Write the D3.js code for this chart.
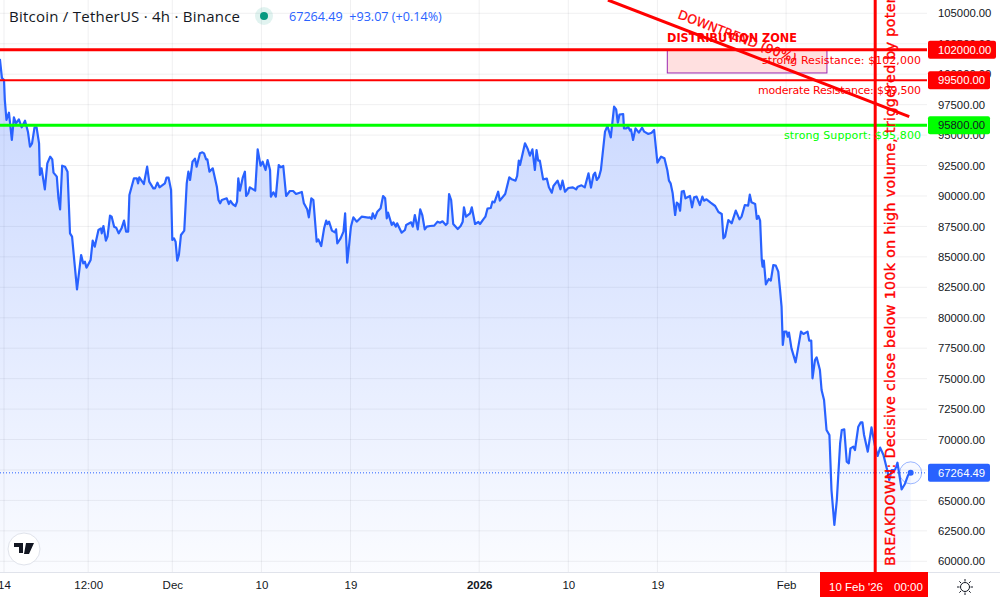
<!DOCTYPE html>
<html>
<head>
<meta charset="utf-8">
<title>BTCUSDT 4h</title>
<script src="https://cdn.jsdelivr.net/npm/d3@7/dist/d3.min.js"></script>
<style>
    html, body { margin: 0; padding: 0; background: #fff; }
    svg { display: block; }
    text { font-family: "Liberation Sans", sans-serif; }
</style>
</head>
<body>
<svg id="chart" width="1000" height="600"></svg>
<script>
(function() {
    "use strict"

    // hours after 14 Nov 2025 00:00 UTC
    var hours = [-10,-5,0,2,6,12,19,24,29,36,43,51,58,63,68,74,79,85,87,91,99,105,112,117,120,128,132,136,141,148,154,160,165,171,177,187,192,196,200,210,215,220,229,235,237,241,247,251,257,261,267,272,278,285,291,296,301,304,315,322,325,328,339,347,352,362,366,372,377,390,394,399,405,408,412,416,420,424,429,437,443,447,451,457,463,467,475,481,485,490,493,498,506,516,520,524,528,540,545,549,554,561,565,568,572,579,584,587,592,596,609,615,622,627,634,639,645,647,653,659,666,671,677,684,693,701,708,722,727,735,739,745,750,758,762,769,776,781,784,788,795,802,805,808,816,823,827,832,837,841,847,855,867,883,887,891,894,899,905,913,919,924,928,931,940,944,950,953,964,972,975,987,991,996,1003,1009,1014,1020,1025,1033,1043,1051,1057,1063,1071,1075,1079,1084,1089,1100,1107,1112,1115,1120,1130,1134,1142,1150,1154,1162,1167,1172,1180,1184,1189,1198,1202,1215,1225,1231,1240,1244,1248,1251,1263,1270,1275,1281,1287,1291,1295,1299,1307,1316,1321,1328,1332,1342,1349,1354,1360,1368,1379,1387,1391,1400,1408,1417,1423,1429,1433,1437,1442,1447,1457,1463,1471,1479,1484,1488,1492,1501,1503,1509,1513,1518,1520,1525,1531,1539,1547,1552,1562,1570,1576,1584,1593,1601,1608,1612,1616,1621,1627,1631,1635,1639,1643,1648,1652,1663,1668,1673,1679,1687,1693,1697,1703,1713,1724,1732,1740,1744,1748,1756,1764,1774,1783,1788,1796,1804,1808,1812,1821,1825,1829,1833,1837,1839,1842,1847,1854,1859,1865,1871,1877,1881,1885,1888,1892,1897,1900,1903,1909,1919,1932,1938,1948,1952,1957,1960,1966,1970,1978,1982,1988,1994,2001,2006,2013,2019,2027,2031,2037,2043,2048,2052,2059,2063,2071,2077,2081,2085,2094,2103,2111,2118,2124,2132,2141,2146,2152,2160,2166,2176,2184,2192,2198];
    var closes = [101250,99690,99520,97880,96238,96840,94596,96457,95964,96293,95636,96183,95280,94048,94322,95636,95636,94322,91722,92269,90545,92680,93227,93008,91913,91585,89806,88903,92488,92406,91996,86932,86658,84469,82334,85153,84469,84606,84113,84742,86330,85837,87206,87343,86932,87534,86330,86658,88383,88301,87479,87397,86932,87343,87972,87069,87069,90080,91448,91448,91038,91530,90983,92406,91174,90627,90627,91092,90709,91038,91503,91503,90490,86385,86521,86248,84688,85153,86795,87151,91038,91996,91311,92817,93063,92406,93501,93583,93501,93008,93008,91996,92269,90764,89669,89395,89669,89806,89341,89587,89341,89176,89532,91448,90435,91530,91996,89997,90216,90709,90435,93829,92488,92817,92132,92953,92132,89943,90299,89943,92543,92351,92461,89997,90408,90408,90162,90326,89395,88903,88246,89806,89669,86248,86439,85892,87343,87972,87698,87890,87151,87014,87260,86111,86521,87069,88574,84523,86111,87479,88246,87890,88301,88218,88246,88109,88574,88164,88711,88985,89997,89806,88164,88629,87616,87835,87479,87753,86987,87206,87616,87835,87479,88437,87260,88903,88437,87260,87479,87534,87561,87890,87808,87918,87616,87753,90162,89669,87698,87288,87534,87890,89067,88301,88574,89067,87698,87863,87698,88082,88301,88958,89012,89532,89477,90353,89614,90162,91530,91366,91256,91640,92899,92543,94322,93829,93309,93829,92132,93774,92899,92899,91366,91421,90709,90271,90819,91256,90545,91256,90353,90654,90709,90545,90764,90873,90709,91858,90682,91721,91913,91311,91530,92132,95280,95745,94814,97333,97114,96019,96676,96730,95553,95553,95690,95362,95471,94595,95553,95198,95608,95280,95088,95198,95417,92734,93227,93090,92132,91256,91037,90216,88437,89450,89340,88793,90353,90408,89806,89997,89067,89888,89943,89258,89943,89614,89724,89450,89176,88684,88519,86521,86658,88027,87753,88793,88082,88300,89258,89204,90107,89477,89340,88109,88355,87972,84742,84195,84688,82744,83182,83045,84332,84277,83784,82415,80910,77763,78858,78858,78447,78776,77489,76340,78858,78666,78858,78119,78119,75026,76531,76750,75710,74066,73245,70782,70371,65855,62981,65034,69687,70782,70836,68181,68044,69276,69413,69139,71055,71411,71411,70371,69002,70996,69550,68647,69331,68729,67497,66676,67497,67497,68099,65910,66348,67087,67264.49];

    var priceTicks = [105000,102500,100000,97500,95000,92500,90000,87500,85000,82500,80000,77500,75000,72500,70000,67500,65000,62500,60000];
    var timeTicks = ["2025-11-14T00:00Z","2025-11-22T12:00Z","2025-12-01T00:00Z","2025-12-10T00:00Z","2025-12-19T00:00Z","2026-01-01T00:00Z","2026-01-10T00:00Z","2026-01-19T00:00Z","2026-02-01T00:00Z"];
    var timeLabels = ["14","12:00","Dec","10","19","2026","10","19","Feb"];

    var levels = [102000, 99500, 95800];
    var levelNames = ["strong Resistance: $102,000", "moderate Resistance: $99,500", "strong Support: $95,800"];
    var levelColors = ["#ff0000", "#ff0000", "#00ff00"];
    var levelWidths = [3, 2, 3];
    var levelBoxWidths = [68, 62, 62];
    var levelTextLengths = [159, 163, 137];

    var lastPrice = 67264.49;
    var breakdownDate = "2026-02-10T00:00Z";
    var zoneDates = ["2026-01-20T00:00Z", "2026-02-05T03:00Z"];
    var zonePrices = [102000, 100100];
    var trendDates = ["2026-01-14T00:00Z", "2026-02-13T10:30Z"];
    var trendPrices = [106090, 96510];

    var plotW = 927, plotH = 572;
    var t0 = Date.UTC(2025, 10, 14);
    var svg = d3.select("#chart");

    var x = d3.scaleUtc()
        .domain([new Date(t0), new Date("2026-02-10T00:00Z")])
        .range([4, 875.2]);
    var y = d3.scaleLinear()
        .domain([105000, 60000])
        .range([13.3, 561.3]);

    var series = hours.map(function(h, i) {
        return { date: new Date(t0 + h * 3600000), close: closes[i] };
    });

    // 面积渐变
    var grad = svg.append("defs").append("linearGradient")
        .attr("id", "areaFill")
        .attr("gradientUnits", "userSpaceOnUse")
        .attr("x1", 0).attr("x2", 0)
        .attr("y1", 60).attr("y2", plotH);
    grad.append("stop").attr("offset", 0).attr("stop-color", "#2962ff").attr("stop-opacity", 0.26);
    grad.append("stop").attr("offset", 1).attr("stop-color", "#2962ff").attr("stop-opacity", 0.02);
    svg.select("defs").append("clipPath").attr("id", "plotClip")
        .append("rect").attr("width", plotW).attr("height", plotH);

    var plot = svg.append("g").attr("clip-path", "url(#plotClip)");

    // grid
    plot.selectAll("line.gy").data(priceTicks).enter().append("line")
        .attr("x1", 0).attr("x2", plotW)
        .attr("y1", function(d) { return y(d); })
        .attr("y2", function(d) { return y(d); })
        .attr("stroke", "#2a2e39").attr("stroke-opacity", 0.07);
    plot.selectAll("line.gx").data(timeTicks).enter().append("line")
        .attr("y1", 0).attr("y2", plotH)
        .attr("x1", function(d) { return x(new Date(d)); })
        .attr("x2", function(d) { return x(new Date(d)); })
        .attr("stroke", "#2a2e39").attr("stroke-opacity", 0.07);

    // area + line
    plot.append("path").datum(series)
        .attr("fill", "url(#areaFill)")
        .attr("d", d3.area()
            .x(function(d) { return x(d.date); })
            .y0(plotH)
            .y1(function(d) { return y(d.close); }));
    plot.append("path").datum(series)
        .attr("fill", "none")
        .attr("stroke", "#2962ff")
        .attr("stroke-width", 2.2)
        .attr("stroke-linejoin", "round")
        .attr("d", d3.line()
            .x(function(d) { return x(d.date); })
            .y(function(d) { return y(d.close); }));

    // last price dotted line
    plot.append("line")
        .attr("x1", 0).attr("x2", plotW)
        .attr("y1", y(lastPrice)).attr("y2", y(lastPrice))
        .attr("stroke", "#2962ff").attr("stroke-width", 1).attr("stroke-dasharray", "1 2");

    var last = series[series.length - 1];
    plot.append("circle")
        .attr("cx", x(last.date)).attr("cy", y(last.close)).attr("r", 11)
        .attr("fill", "#2962ff").attr("fill-opacity", 0.04)
        .attr("stroke", "#2962ff").attr("stroke-opacity", 0.45);
    plot.append("circle")
        .attr("cx", x(last.date)).attr("cy", y(last.close)).attr("r", 3)
        .attr("fill", "#2962ff");

    // distribution zone
    plot.append("rect")
        .attr("x", x(new Date(zoneDates[0])))
        .attr("y", y(zonePrices[0]))
        .attr("width", x(new Date(zoneDates[1])) - x(new Date(zoneDates[0])))
        .attr("height", y(zonePrices[1]) - y(zonePrices[0]))
        .attr("fill", "#ff0000").attr("fill-opacity", 0.12)
        .attr("stroke", "#9c27b0").attr("stroke-width", 1);

    // level lines
    plot.selectAll("line.level").data(levels).enter().append("line")
        .attr("x1", 0).attr("x2", plotW)
        .attr("y1", function(d) { return y(d); })
        .attr("y2", function(d) { return y(d); })
        .attr("stroke", function(d, i) { return levelColors[i]; })
        .attr("stroke-width", function(d, i) { return levelWidths[i]; });

    // downtrend line
    plot.append("line")
        .attr("x1", x(new Date(trendDates[0]))).attr("y1", y(trendPrices[0]))
        .attr("x2", x(new Date(trendDates[1]))).attr("y2", y(trendPrices[1]))
        .attr("stroke", "#ff0000").attr("stroke-width", 3);

    // breakdown line
    plot.append("line")
        .attr("x1", x(new Date(breakdownDate))).attr("x2", x(new Date(breakdownDate)))
        .attr("y1", 0).attr("y2", plotH)
        .attr("stroke", "#ff0000").attr("stroke-width", 3);

    // annotations
    var noteFont = '"DejaVu Sans", sans-serif';
    plot.selectAll("text.level").data(levelNames).enter().append("text")
        .attr("x", 921)
        .attr("y", function(d, i) { return y(levels[i]) + 14; })
        .attr("text-anchor", "end")
        .attr("textLength", function(d, i) { return levelTextLengths[i]; })
        .attr("fill", function(d, i) { return levelColors[i]; })
        .style("font-family", noteFont)
        .style("font-size", "11px")
        .text(function(d) { return d; });
    plot.append("text")
        .attr("x", 667).attr("y", 42)
        .attr("textLength", 130)
        .attr("lengthAdjust", "spacingAndGlyphs")
        .attr("fill", "#ff0000")
        .style("font-family", noteFont)
        .style("font-size", "12px").style("font-weight", "bold")
        .text("DISTRIBUTION ZONE");
    plot.append("text")
        .attr("transform", "translate(677,18) rotate(21)")
        .attr("fill", "#ff0000").attr("stroke", "#ff0000").attr("stroke-width", 0.25)
        .style("font-family", noteFont)
        .style("font-size", "12.5px")
        .text("DOWNTREND (90%)");
    plot.append("text")
        .attr("transform", "translate(894.5,566) rotate(-90)")
        .attr("fill", "#ff0000").attr("stroke", "#ff0000").attr("stroke-width", 0.35)
        .style("font-family", noteFont)
        .style("font-size", "14.2px").style("letter-spacing", "0.35px")
        .text("BREAKDOWN: Decisive close below 100k on high volume, triggered by potential");

    // price axis
    svg.append("rect").attr("x", plotW).attr("y", 0).attr("width", 1000 - plotW).attr("height", 600).attr("fill", "#fff");
    var yAxis = svg.append("g")
        .attr("transform", "translate(" + 938 + ",0)")
        .call(d3.axisRight(y).tickValues(priceTicks).tickSize(0).tickPadding(0)
            .tickFormat(function(d) { return d3.format(".2f")(d); }));
    yAxis.select(".domain").remove();
    yAxis.selectAll("text").attr("fill", "#131722")
        .style("font-size", "11.3px").style("font-family", '"Liberation Sans", sans-serif');

    // level tags
    var tags = svg.selectAll("g.tag").data(levels).enter().append("g")
        .attr("transform", function(d) { return "translate(" + plotW + "," + y(d) + ")"; });
    tags.append("rect")
        .attr("x", 1).attr("y", -9)
        .attr("width", function(d, i) { return levelBoxWidths[i]; })
        .attr("height", 18).attr("rx", 2)
        .attr("fill", function(d, i) { return levelColors[i]; });
    tags.append("text")
        .attr("x", 11).attr("dy", "0.35em")
        .attr("fill", function(d, i) { return i == 2 ? "#131722" : "#fff"; })
        .style("font-size", "11.3px")
        .text(function(d) { return d3.format(".2f")(d); });

    var lastTag = svg.append("g").attr("transform", "translate(" + plotW + "," + y(lastPrice) + ")");
    lastTag.append("rect").attr("x", 1).attr("y", -9).attr("width", 62).attr("height", 18).attr("rx", 2).attr("fill", "#2962ff");
    lastTag.append("text").attr("x", 11).attr("dy", "0.35em").attr("fill", "#fff")
        .style("font-size", "11.3px").text(d3.format(".2f")(lastPrice));

    // time axis
    svg.append("rect").attr("x", 0).attr("y", plotH).attr("width", 1000).attr("height", 600 - plotH).attr("fill", "#fff");
    svg.append("line").attr("x1", 0).attr("x2", 1000).attr("y1", plotH + 0.5).attr("y2", plotH + 0.5).attr("stroke", "#e0e3eb");
    var xAxis = svg.append("g")
        .attr("transform", "translate(0," + plotH + ")")
        .call(d3.axisBottom(x).tickValues(timeTicks.map(function(d) { return new Date(d); }))
            .tickSize(0).tickPadding(9)
            .tickFormat(function(d, i) { return timeLabels[i]; }));
    xAxis.select(".domain").remove();
    xAxis.selectAll("text").attr("fill", "#131722")
        .style("font-size", "11.5px").style("font-family", '"Liberation Sans", sans-serif')
        .style("font-weight", function(d, i) { return timeLabels[i] == "2026" ? "bold" : "normal"; });

    // crosshair time label
    svg.append("rect").attr("x", 820).attr("y", plotH).attr("width", 108).attr("height", 25).attr("fill", "#ff0000");
    svg.append("text").attr("x", 829).attr("y", 591).attr("fill", "#fff").style("font-size", "11.5px").text("10 Feb '26");
    svg.append("text").attr("x", 894).attr("y", 591).attr("fill", "#fff").style("font-size", "11.5px").text("00:00");

    // header
    var header = svg.append("g");
    header.append("text").attr("x", 9).attr("y", 21.5).attr("fill", "#131722")
        .style("font-family", '"Open Sans", sans-serif').style("font-size", "15px")
        .attr("textLength", 231)
        .text("Bitcoin / TetherUS · 4h · Binance");
    header.append("circle").attr("cx", 264).attr("cy", 16).attr("r", 9).attr("fill", "#089981").attr("fill-opacity", 0.12);
    header.append("circle").attr("cx", 264).attr("cy", 16).attr("r", 4).attr("fill", "#089981");
    header.append("text").attr("x", 289).attr("y", 21).attr("fill", "#2962ff")
        .style("font-family", '"Open Sans", sans-serif').style("font-size", "12.6px")
        .text("67264.49  +93.07 (+0.14%)").attr("xml:space", "preserve");

    // logo
    var logo = svg.append("g").attr("transform", "translate(24,549)");
    logo.append("circle").attr("r", 16).attr("fill", "#fff").attr("stroke", "#e0e3eb");
    logo.append("path").attr("fill", "#131722")
        .attr("d", "M-10,-6H-1V4H-5V-2H-10ZM2,-6H10L5,5H0Z");

    // settings sun icon
    var sun = svg.append("g").attr("transform", "translate(965,587)")
        .attr("stroke", "#131722").attr("fill", "none");
    sun.append("circle").attr("r", 4.5);
    d3.range(8).forEach(function(i) {
        var a = i * Math.PI / 4;
        sun.append("line")
            .attr("x1", 5.5 * Math.cos(a)).attr("y1", 5.5 * Math.sin(a))
            .attr("x2", 8 * Math.cos(a)).attr("y2", 8 * Math.sin(a));
    });
})();
</script>
</body>
</html>
